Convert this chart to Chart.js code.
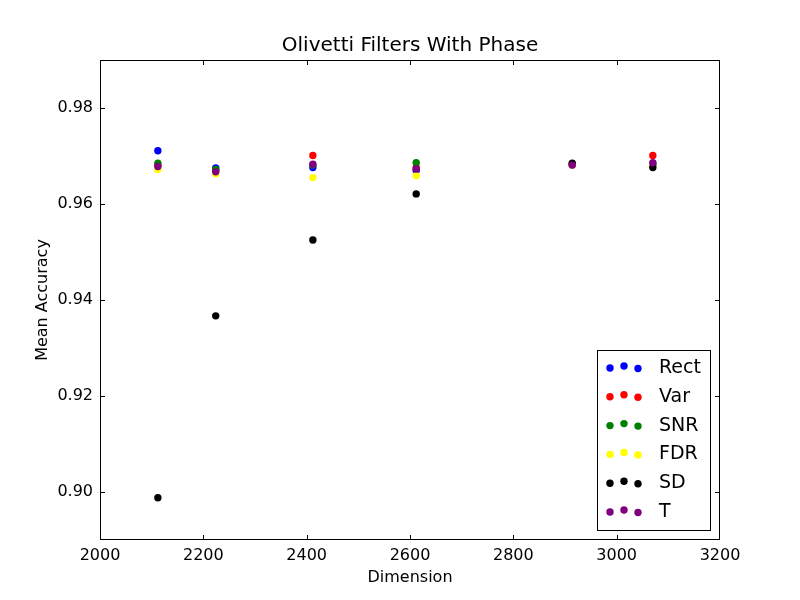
<!DOCTYPE html>
<html>
<head>
<meta charset="utf-8">
<script src="https://cdn.jsdelivr.net/npm/chart.js@4.4.0/dist/chart.umd.min.js"></script>
<style>
  html, body { margin: 0; padding: 0; background: #fff; }
</style>
</head>
<body>
<canvas id="chart" width="800" height="600"></canvas>
<script>
    // Data
    const dims = [2112, 2224, 2412, 2612, 2914, 3070];
    const rectAcc = [0.9711, 0.9675, 0.9676, 0.9670, 0.9682, 0.9682];
    const varAcc  = [0.9680, 0.9670, 0.9701, 0.9676, 0.9682, 0.9701];
    const snrAcc  = [0.9685, 0.9672, 0.9681, 0.9686, 0.9682, 0.9683];
    const fdrAcc  = [0.9672, 0.9663, 0.9655, 0.9659, 0.9681, 0.9680];
    const sdAcc   = [0.8988, 0.9367, 0.9525, 0.9621, 0.9685, 0.9676];
    const tAcc    = [0.9678, 0.9667, 0.9683, 0.9673, 0.9681, 0.9686];

    const seriesNames = ['Rect', 'Var', 'SNR', 'FDR', 'SD', 'T'];
    const seriesValues = [rectAcc, varAcc, snrAcc, fdrAcc, sdAcc, tAcc];
    const seriesColors = ['#0000ff', '#ff0000', '#008000', '#ffff00', '#000000', '#800080'];

    const xTicks = [2000, 2200, 2400, 2600, 2800, 3000, 3200];
    const yTicks = [0.90, 0.92, 0.94, 0.96, 0.98];

    const chartTitle = 'Olivetti Filters With Phase';
    const xLabel = 'Dimension';
    const yLabel = 'Mean Accuracy';

    const FONT = '"DejaVu Sans", sans-serif';

    function toPoints(values) {
        return values.map((v, i) => ({ x: dims[i], y: v }));
    }

    // later series are drawn on top, like matplotlib
    const datasets = seriesNames.map((name, i) => ({
        label: name,
        data: toPoints(seriesValues[i]),
        backgroundColor: seriesColors[i],
        borderColor: seriesColors[i],
        borderWidth: 0,
        pointRadius: 3.7,
        pointHoverRadius: 3.7,
        order: seriesNames.length - i
    }));

    // Frame, inward ticks, title, axis labels and legend box
    const framePlugin = {
        id: 'frame',
        afterDraw(chart) {
            const ctx = chart.ctx;
            const a = chart.chartArea;
            const xs = chart.scales.x, ys = chart.scales.y;
            ctx.save();
            ctx.strokeStyle = '#000';
            ctx.lineWidth = 1;
            ctx.strokeRect(a.left + 0.5, a.top + 0.5, a.right - a.left - 1, a.bottom - a.top - 1);

            const tl = 5;
            const clampX = px => Math.min(Math.max(px, a.left + 0.5), a.right - 0.5);
            const clampY = py => Math.min(Math.max(py, a.top + 0.5), a.bottom - 0.5);
            ctx.beginPath();
            xTicks.forEach(t => {
                const px = clampX(Math.round(xs.getPixelForValue(t)) + 0.5);
                ctx.moveTo(px, a.bottom); ctx.lineTo(px, a.bottom - tl);
                ctx.moveTo(px, a.top); ctx.lineTo(px, a.top + tl);
            });
            yTicks.forEach(t => {
                const py = clampY(Math.round(ys.getPixelForValue(t)) + 0.5);
                ctx.moveTo(a.left, py); ctx.lineTo(a.left + tl, py);
                ctx.moveTo(a.right, py); ctx.lineTo(a.right - tl, py);
            });
            ctx.stroke();

            ctx.fillStyle = '#000';
            ctx.textAlign = 'center';
            ctx.textBaseline = 'middle';
            ctx.font = '20px ' + FONT;
            ctx.fillText(chartTitle, (a.left + a.right) / 2, 46);

            ctx.font = '16px ' + FONT;
            ctx.fillText(xLabel, (a.left + a.right) / 2, 578);
            ctx.save();
            ctx.translate(43, (a.top + a.bottom) / 2);
            ctx.rotate(-Math.PI / 2);
            ctx.fillText(yLabel, 0, 0);
            ctx.restore();

            // legend
            const lx = 597, ly = 350, lw = 113, lh = 180;
            ctx.fillStyle = '#fff';
            ctx.fillRect(lx, ly, lw, lh);
            ctx.strokeRect(lx + 0.5, ly + 0.5, lw, lh);
            const dotX = [610, 624, 638];
            const dotDy = [1, -1, 1.5];
            ctx.font = '19px ' + FONT;
            ctx.textAlign = 'left';
            chart.data.datasets.forEach((ds, i) => {
                const cy = 367 + i * 28.8;
                ctx.fillStyle = ds.backgroundColor;
                dotX.forEach((dx, k) => {
                    ctx.beginPath();
                    ctx.arc(dx, cy + dotDy[k], 3.7, 0, Math.PI * 2);
                    ctx.fill();
                });
                ctx.fillStyle = '#000';
                ctx.fillText(ds.label, 659, cy + 1);
            });
            ctx.restore();
        }
    };

    const ctx = document.getElementById('chart').getContext('2d');
    const chart = new Chart(ctx, {
        type: 'scatter',
        data: { datasets: datasets },
        options: {
            responsive: false,
            animation: false,
            devicePixelRatio: 1,
            layout: { padding: { top: 60, right: 80, left: 0, bottom: 0 } },
            plugins: {
                legend: { display: false },
                title: { display: false },
                tooltip: { enabled: false }
            },
            scales: {
                x: {
                    type: 'linear',
                    min: 2000,
                    max: 3200,
                    grid: { display: false, drawTicks: false },
                    border: { display: false },
                    afterBuildTicks: scale => { scale.ticks = xTicks.map(v => ({ value: v })); },
                    afterFit: scale => { scale.height = 60; },
                    ticks: {
                        padding: 6,
                        color: '#000',
                        font: { family: FONT, size: 16 },
                        maxRotation: 0,
                        callback: v => String(v)
                    }
                },
                y: {
                    type: 'linear',
                    min: 0.89,
                    max: 0.99,
                    grid: { display: false, drawTicks: false },
                    border: { display: false },
                    afterBuildTicks: scale => { scale.ticks = yTicks.map(v => ({ value: v })); },
                    afterFit: scale => { scale.width = 100; },
                    ticks: {
                        padding: 7,
                        color: '#000',
                        font: { family: FONT, size: 16 },
                        callback: v => v.toFixed(2)
                    }
                }
            }
        },
        plugins: [framePlugin]
    });
</script>
</body>
</html>
